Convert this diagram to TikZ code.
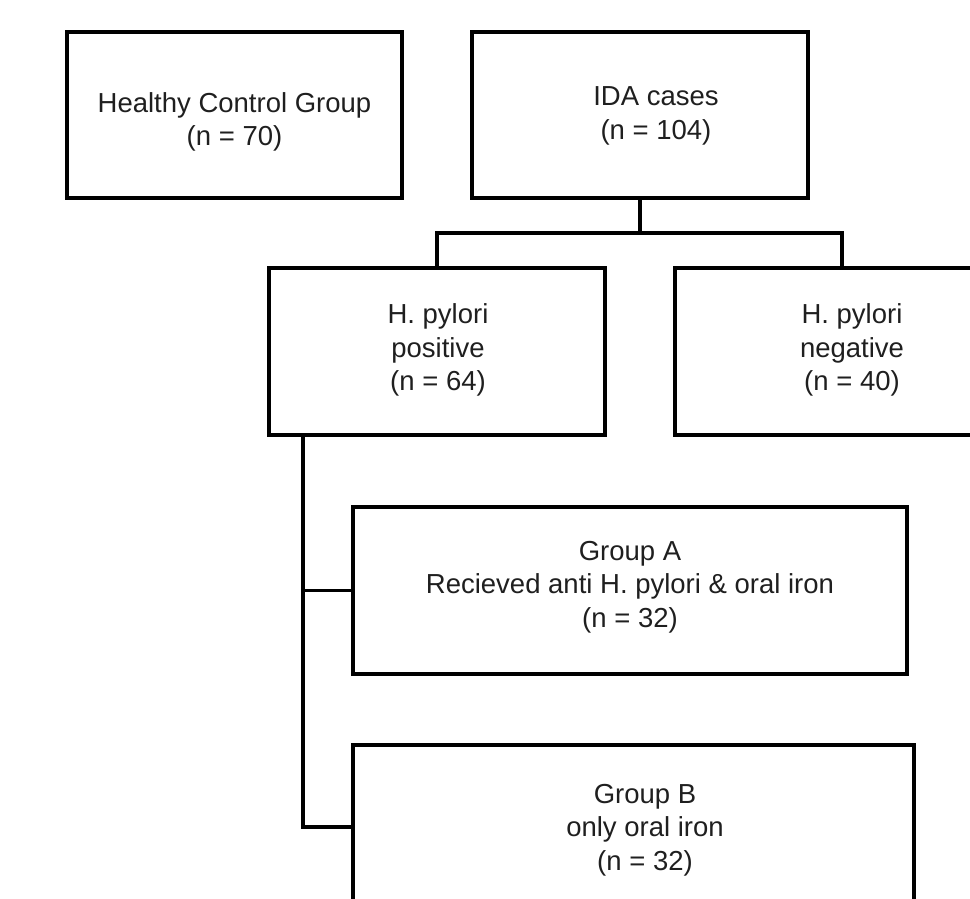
\documentclass[tikz,border=0pt]{standalone}
\usepackage{fontspec}
\setmainfont{Liberation Sans}
\usepackage{tikz}
\usetikzlibrary{positioning,calc}

\begin{document}
\begin{tikzpicture}[
  x=1pt, y=-1pt,
  every node/.style={font=\fontsize{27.5}{33.5}\selectfont},
  box/.style={draw=black, line width=3.2pt, rectangle, inner sep=0pt},
  txt/.style={align=center, inner sep=0pt, text=black!88},
  link/.style={draw=black, line width=3.2pt}
]
  \useasboundingbox (0,0) rectangle (970,899);
  \clip (0,0) rectangle (970,899);

  % boxes
  \node[box, minimum width=335pt, minimum height=166pt] (healthy) at (234.5,115) {};
  \node[box, minimum width=336pt, minimum height=166pt] (ida)     at (640,115)   {};
  \node[box, minimum width=336pt, minimum height=167pt] (pos)     at (437,351.5) {};
  \node[box, minimum width=334pt, minimum height=167pt] (neg)     at (842,351.5) {};
  \node[box, minimum width=554pt, minimum height=167pt] (grpA)    at (630,590.5) {};
  \node[box, minimum width=561pt, minimum height=164pt] (grpB)    at (633.5,827) {};

  % texts
  \node[txt] (healthytxt) at (234.5,122) {Healthy Control Group\\(n = 70)};
  \node[txt] (idatxt)     at (656,116)   {IDA cases\\(n = 104)};
  \node[txt] (postxt)     at (438,350)   {H. pylori\\positive\\(n = 64)};
  \node[txt] (negtxt)     at (852,350)   {H. pylori\\negative\\(n = 40)};
  \node[txt] (grpAtxt)    at (630,587)   {Group A\\Recieved anti H. pylori \& oral iron\\(n = 32)};
  \node[txt] (grpBtxt)    at (645,830)   {Group B\\only oral iron\\(n = 32)};

  % connectors
  \coordinate (split) at (640,233);
  \coordinate (trunk) at (303,826);
  \draw[link] (ida) -- (split);
  \draw[link] (split) -| (pos);
  \draw[link] (split) -| (neg);
  \draw[link] (pos.south -| trunk) |- (grpB);
  \draw[link] (grpA.west) -- (grpA.west -| trunk);
\end{tikzpicture}
\end{document}
